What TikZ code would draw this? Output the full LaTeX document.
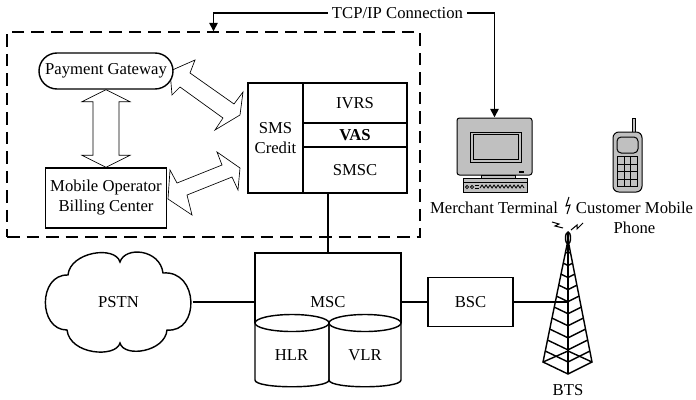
\documentclass[tikz,border=0pt]{standalone}
\usepackage{fontspec}
\setmainfont{Liberation Serif}
\usetikzlibrary{calc,arrows.meta,backgrounds}
\newdimen\pxu
\pxu=0.6pt
\definecolor{devgray}{RGB}{192,192,192}
\begin{document}
\begin{tikzpicture}[x=0.6pt, y=-0.6pt, line width=0.85pt, line join=miter,
  every node/.style={font=\fontsize{10}{12}\selectfont, inner sep=0pt, align=center},
  box/.style={draw, fill=white},
  sz/.style 2 args={minimum width=#1*\pxu, minimum height=#2*\pxu},
  tcpline/.style={-{Triangle[length=5pt,width=5pt]}},
  bigarrow/.style={draw, fill=white},
  device/.style={draw, fill=devgray, line width=0.6pt},
  region/.style={draw, dash pattern=on 7.5pt off 4.2pt},
]
\useasboundingbox (0,0) rectangle (696,399);

% operator domain
\node[region, sz={413}{205}] (domain) at (213.5,134.5) {};

\node[box, sz={134}{36}, rounded corners=10.8pt] (gw) at (106,71) {Payment Gateway};
\node[box, sz={121}{60}] (billing) at (106,198) {Mobile Operator\\Billing Center};

% SMS credit platform
\node[box, sz={55}{110}] (credit) at (275.5,138) {SMS\\Credit};
\node[box, sz={104}{40}] (ivrs) at (355,103) {IVRS};
\node[box, sz={104}{24}] (vas) at (355,135) {\textbf{VAS}};
\node[box, sz={104}{46}] (smsc) at (355,170) {SMSC};

% block arrows between the domain components
\begin{scope}[on background layer]
\draw[bigarrow] (gw.south) -- ++(-24,12) -- ++(11,0)
  -- ($(billing.north)+(-13,-12)$) -- ++(-11,0) -- (billing.north)
  -- ++(24,-12) -- ++(-11,0) -- ($(gw.south)+(13,12)$) -- ++(11,0) -- cycle;
\draw[bigarrow] (170,71) -- (195,60) -- (190,73) -- (234,104) -- (243,92)
  -- (240,115) -- (215,130) -- (223,118) -- (180,87) -- (172,95) -- cycle;
\draw[bigarrow] (168,199) -- (170,170) -- (177,183) -- (222,165) -- (217,152)
  -- (240,168) -- (238,190) -- (232,177) -- (187,195) -- (192,215) -- cycle;
\end{scope}

% merchant terminal
\node[sz={75}{74}] (terminal) at (494.5,155) {};
\draw[device, rounded corners=1.5pt] (457,118) rectangle (532,175);
\draw[device] (470,132) rectangle (521,162);
\draw[device] (473,134.5) rectangle (518,159.5);
\draw[line width=1.2pt] (519,171.5) -- (524,171.5);
\draw[device] (481,175) rectangle (515,178.5);
\draw[device] (463,178.5) rectangle (527,192);
\draw[line width=0.5pt] (463,182) -- (527,182);
\draw[line width=0.5pt] (480,188) \foreach \k in {0,...,10} {-- ({482+4*\k},185) -- ({484+4*\k},188)};
\draw[line width=0.5pt] (467,187) circle [radius=1.6] (472,187) circle [radius=1.6];
\draw[line width=0.5pt] (475,185.5) -- (479,185.5) (475,188.5) -- (479,188.5);
\node (termlabel) at (494,208) {Merchant Terminal};

% customer phone
\node[sz={29}{74}] (phone) at (627.5,155) {};
\draw[device] (632,118) rectangle (635,132);
\draw[device, rounded corners=3.5pt] (613,132) rectangle (642,192);
\draw[device, rounded corners=2.5pt] (617,137) rectangle (638,153);
\draw[device] (617.5,156.5) rectangle (637.5,186.5);
\draw[line width=0.6pt] (624.2,156.5) -- (624.2,186.5) (630.8,156.5) -- (630.8,186.5)
  (617.5,164) -- (637.5,164) (617.5,171.5) -- (637.5,171.5) (617.5,179) -- (637.5,179);
\node (phonelabel) at (634.5,217.5) {Customer Mobile\\Phone};

% TCP/IP link
\node[inner xsep=2pt] (tcp) at (397.5,13) {TCP/IP Connection};
\draw[tcpline] (tcp.west) -| (domain.north);
\draw[tcpline] (tcp.east) -| (terminal.north);

% PSTN cloud
\node[sz={147}{99}] (pstn) at (118.5,302) {PSTN};
\draw (68,275) .. controls (70,252) and (115,245) .. (120,262)
  .. controls (125,246) and (160,249) .. (163,273)
  .. controls (199,270) and (200,333) .. (167,330)
  .. controls (165,352) and (124,358) .. (120,343)
  .. controls (116,358) and (70,355) .. (67,330)
  .. controls (38,330) and (38,274) .. cycle;

% MSC with HLR and VLR databases
\node[sz={146}{98}] (msc) at (328,302) {MSC};
\draw (255,323) -- (255,253) -- (401,253) -- (401,323);
\draw (255,323) -- (255,380) .. controls (255,389) and (329,389) .. (329,380) -- (329,323);
\draw (329,323) -- (329,380) .. controls (329,389) and (401,389) .. (401,380) -- (401,323);
\draw (292,323) ellipse [x radius=37, y radius=8.5];
\draw (365,323) ellipse [x radius=36, y radius=8.5];
\node (hlr) at (291.5,355) {HLR};
\node (vlr) at (365,355) {VLR};

\node[box, sz={85}{49}] (bsc) at (470.5,302) {BSC};

% base transceiver station mast
\coordinate (apex) at (568,240);
\coordinate (legL) at (543,362);
\coordinate (legR) at (592,362);
\coordinate (legF) at (568,374);
\coordinate (legB) at (568,351);
\coordinate (mast) at (568,302);
\draw (apex) -- (legL) -- (legF) -- (legR) -- cycle;
\draw (apex) -- (legF);
\draw (legL) -- (legB) -- (legR);
\foreach \t in {0.1,0.19,0.28,0.37,0.46,0.55,0.64,0.73,0.82,0.91}
  \draw ($(apex)!\t!(legL)$) -- ($(apex)!\t!(legF)$) -- ($(apex)!\t!(legR)$);
\draw[fill=white] (568,238) ellipse [x radius=2.5, y radius=6];
\draw (568,232) -- (568,244);
\draw[line width=0.6pt] (567,214) -- (570,205) -- (566,206) -- (569,197);
\draw[line width=0.6pt] (552,222) -- (559,224) -- (555,226) -- (563,228);
\draw[line width=0.6pt] (571,230) -- (577,225) -- (577,229) -- (583,223);
\node (btslabel) at (568,390.5) {BTS};

% trunk connections
\draw (smsc.south -| msc.north) -- (msc.north);
\draw (pstn.east) -- (msc.west);
\draw (msc.east) -- (bsc.west);
\draw (bsc.east) -- (mast);
\end{tikzpicture}
\end{document}
